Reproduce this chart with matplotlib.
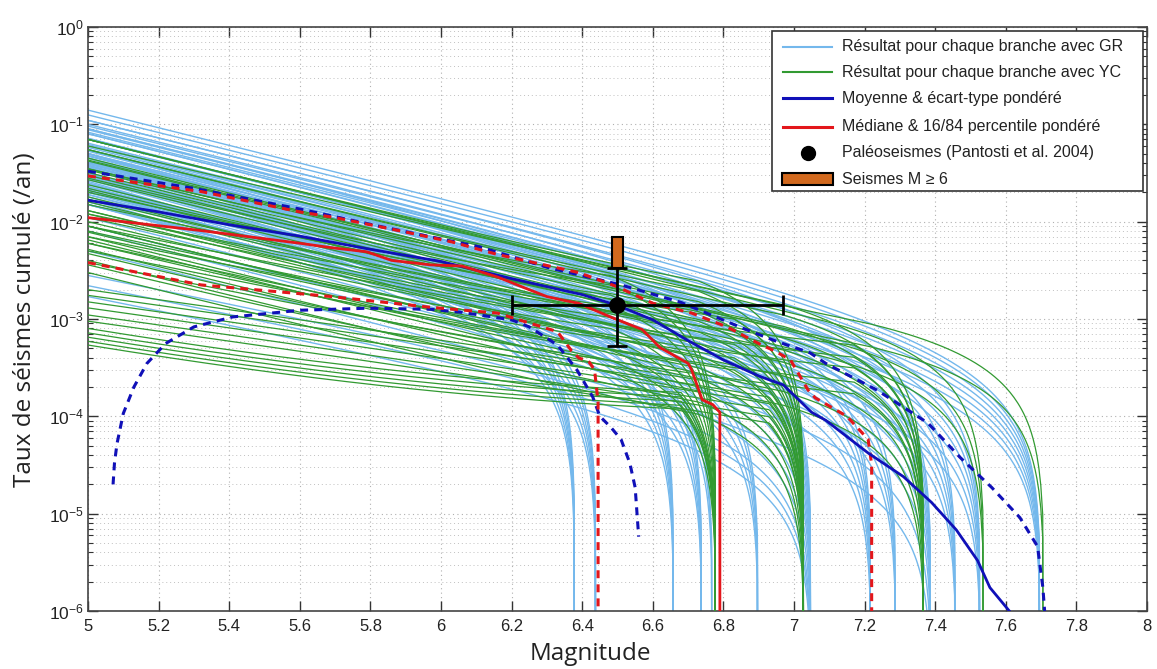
import numpy as np
import matplotlib
matplotlib.use('Agg')
import matplotlib.pyplot as plt
from matplotlib.patches import Rectangle
from matplotlib.lines import Line2D
from matplotlib.ticker import FixedLocator, LogFormatterSciNotation, NullFormatter, FormatStrFormatter

# ---------------- data ----------------
# Gutenberg-Richter branches (grouped by Mmax): b-value and rate at M5 for each branch
gr_mmax = [6.38, 6.44, 6.66, 6.74, 6.77, 6.90, 7.05, 7.05, 7.22, 7.29, 7.39, 7.46, 7.53, 7.70]
gr_b    = [1.0, 1.0, 0.95, 0.95, 0.95, 0.95, 0.9, 0.7, 0.9, 0.9, 0.9, 0.9, 0.9, 0.9]
gr_n5 = [
    [0.050, 0.042, 0.035, 0.030, 0.025, 0.021],
    [0.045, 0.038, 0.031, 0.026, 0.021, 0.017],
    [0.055, 0.045, 0.036, 0.029, 0.023, 0.018],
    [0.050, 0.040, 0.032, 0.025, 0.019, 0.015],
    [0.035, 0.027, 0.020],
    [0.045, 0.036, 0.028, 0.021, 0.016],
    [0.090, 0.072, 0.058, 0.047, 0.038, 0.030, 0.024, 0.019, 0.015, 0.011, 0.008],
    [0.0028, 0.0022, 0.0017],
    [0.080, 0.062, 0.048, 0.037, 0.028, 0.021, 0.015],
    [0.070, 0.053, 0.040, 0.030, 0.022],
    [0.100, 0.080, 0.064, 0.050, 0.039, 0.030, 0.022, 0.015, 0.009, 0.005],
    [0.090, 0.070, 0.054, 0.041, 0.031, 0.023],
    [0.110, 0.088, 0.070, 0.055, 0.042, 0.031, 0.022],
    [0.140, 0.125, 0.110, 0.096, 0.083, 0.071, 0.060, 0.050],
]

# Youngs-Coppersmith branches (grouped): Mmax, char. width, b, char. fraction, rates at M5
yc_mmax  = [6.78, 7.03, 6.78, 7.03, 7.37, 7.54, 7.71, 7.37, 7.03]
yc_width = [0.10, 0.10, 0.30, 0.30, 0.40, 0.50, 0.50, 0.20, 0.20]
yc_b     = [0.70, 0.50, 0.90, 0.90, 0.90, 0.90, 0.85, 0.75, 0.80]
yc_frac  = [0.22, 0.09, 0.08, 0.035, 0.02, 0.015, 0.015, 0.045, 0.05]
yc_n5 = [
    [8.0e-4, 7.2e-4, 6.5e-4, 5.9e-4, 5.4e-4],
    [2.0e-3, 1.75e-3, 1.5e-3, 1.3e-3, 1.1e-3, 9.5e-4],
    [0.035, 0.028, 0.022, 0.017, 0.013, 0.010, 0.0078, 0.006, 0.0047, 0.0036],
    [0.070, 0.055, 0.043, 0.034, 0.027, 0.021, 0.016, 0.012, 0.009, 0.007, 0.0052, 0.004, 0.003],
    [0.070, 0.055, 0.042, 0.032, 0.024, 0.018, 0.013, 0.009, 0.0065],
    [0.070, 0.045, 0.030],
    [0.060, 0.035],
    [0.012, 0.009, 0.007, 0.005, 0.0038],
    [0.020, 0.015, 0.011, 0.008, 0.006],
]

# weighted mean (blue solid)
mean_m = [5.0, 5.2, 5.4, 5.6, 5.8, 6.0, 6.2, 6.4, 6.5, 6.6, 6.7, 6.8, 6.9, 6.97, 7.05, 7.09,
          7.21, 7.31, 7.39, 7.46, 7.52, 7.555, 7.61]
mean_rate = [1.66e-2, 1.26e-2, 9.3e-3, 7.1e-3, 5.2e-3, 3.9e-3, 2.6e-3, 1.78e-3, 1.38e-3,
             9.8e-4, 6.0e-4, 3.8e-4, 2.6e-4, 2.1e-4, 1.1e-4, 9.1e-5,
             4.2e-5, 2.4e-5, 1.3e-5, 6.8e-6, 3.3e-6, 1.74e-6, 1.0e-6]
# mean + std (blue dashed, upper)
mstd_hi_m = [5.0, 5.3, 5.6, 5.83, 6.11, 6.30, 6.51, 6.68, 6.86, 6.95, 7.045, 7.09, 7.235, 7.38,
             7.47, 7.56, 7.64, 7.69, 7.705, 7.71]
mstd_hi_rate = [3.3e-2, 2.2e-2, 1.35e-2, 8.9e-3, 5.5e-3, 3.4e-3, 2.24e-3, 1.48e-3, 7.9e-4, 5.9e-4,
                4.5e-4, 3.5e-4, 1.86e-4, 8.5e-5, 3.8e-5, 1.86e-5, 9.1e-6, 4.6e-6, 1.74e-6, 1.0e-6]
# mean - std (blue dashed, lower)
mstd_lo_m = [5.071, 5.075, 5.082, 5.10, 5.13, 5.167, 5.22, 5.30, 5.41, 5.60, 5.79, 5.97, 6.06,
             6.20, 6.25, 6.33, 6.385, 6.43, 6.45, 6.48, 6.51, 6.535, 6.55, 6.56]
mstd_lo_rate = [2.0e-5, 3.3e-5, 5.2e-5, 1.07e-4, 2.0e-4, 3.5e-4, 5.6e-4, 8.3e-4, 1.05e-3, 1.23e-3,
                1.29e-3, 1.26e-3, 1.17e-3, 9.8e-4, 8.3e-4, 5.4e-4, 3.0e-4, 1.58e-4, 1.0e-4,
                7.8e-5, 5.8e-5, 3.3e-5, 1.86e-5, 5.8e-6]
# weighted median (red solid)
med_m = [5.0, 5.32, 5.6, 5.69, 5.79, 5.86, 5.97, 6.06, 6.16, 6.25, 6.30, 6.35, 6.39, 6.48, 6.57,
         6.62, 6.70, 6.71, 6.74, 6.77, 6.79, 6.79]
med_rate = [1.1e-2, 8.1e-3, 6.0e-3, 5.4e-3, 4.9e-3, 4.0e-3, 3.6e-3, 3.5e-3, 2.7e-3, 2.0e-3,
            1.7e-3, 1.55e-3, 1.45e-3, 1.05e-3, 7.8e-4, 5.1e-4, 3.5e-4, 3.0e-4, 1.48e-4,
            1.32e-4, 1.1e-4, 1e-7]
# 84th percentile (red dashed, upper)
p84_m = [5.0, 5.32, 5.6, 5.7, 5.88, 6.03, 6.16, 6.39, 6.5, 6.6, 6.71, 6.81, 6.9, 6.95, 6.99, 7.04,
         7.06, 7.15, 7.21, 7.22, 7.22]
p84_rate = [2.95e-2, 2.04e-2, 1.26e-2, 1.1e-2, 8.1e-3, 6.2e-3, 4.6e-3, 3.0e-3, 2.14e-3, 1.45e-3,
            1.15e-3, 8.3e-4, 5.6e-4, 4.6e-4, 3.8e-4, 1.86e-4, 1.55e-4, 1.0e-4, 5.8e-5, 3.2e-5, 1e-7]
# 16th percentile (red dashed, lower)
p16_m = [5.0, 5.32, 5.6, 5.69, 5.97, 6.16, 6.25, 6.33, 6.37, 6.39, 6.42, 6.435, 6.445, 6.445]
p16_rate = [3.8e-3, 2.24e-3, 1.82e-3, 1.7e-3, 1.32e-3, 1.15e-3, 9.1e-4, 7.4e-4, 4.7e-4, 4.0e-4,
            3.6e-4, 3.0e-4, 1.4e-4, 1e-7]

# palaeoseismic estimate (Pantosti et al. 2004)
paleo_m, paleo_m_lo, paleo_m_hi = 6.5, 6.20, 6.97
paleo_rate, paleo_rate_lo, paleo_rate_hi = 1.39e-3, 5.3e-4, 3.33e-3
# historical M>=6 rate range
hist_m = 6.5
hist_rate_lo, hist_rate_hi = 3.33e-3, 6.9e-3

x_ticks = [5, 5.2, 5.4, 5.6, 5.8, 6, 6.2, 6.4, 6.6, 6.8, 7, 7.2, 7.4, 7.6, 7.8, 8]
y_ticks = [1e-6, 1e-5, 1e-4, 1e-3, 1e-2, 1e-1, 1e0]
y_minor_ticks = [k * 10.0 ** e for e in range(-6, 0) for k in range(2, 10)]

legend_labels = ["Résultat pour chaque branche avec GR",
                 "Résultat pour chaque branche avec YC",
                 "Moyenne & écart-type pondéré",
                 "Médiane & 16/84 percentile pondéré",
                 "Paléoseismes (Pantosti et al. 2004)",
                 "Seismes M ≥ 6"]

# ---------------- styles ----------------
C_GR = '#74b8ec'
C_YC = '#329a32'
C_MEAN = '#1010b8'
C_MED = '#e3161b'
C_ORANGE = '#d2691e'
FLOOR = 1e-12

plt.rcParams['mathtext.fontset'] = 'custom'
plt.rcParams['mathtext.rm'] = 'Liberation Sans'
plt.rcParams['mathtext.it'] = 'Liberation Sans:italic'
plt.rcParams['mathtext.bf'] = 'Liberation Sans:bold'

W, H = 1157, 669
fig = plt.figure(figsize=(W / 100, H / 100), dpi=100)
ax = fig.add_axes([88 / W, 1 - 611 / H, (1147 - 88) / W, (611 - 27) / H])
ax.set_yscale('log')


def gr_curve(m, n5, b, mmax):
    t = 10 ** (-b * (mmax - 5))
    return n5 * (10 ** (-b * (m - 5)) - t) / (1 - t)


def yc_curve(m, n5, b, mmax, w, frac):
    nc = frac * n5
    a = n5 - nc
    mu = mmax - w
    t = 10 ** (-b * (mu - 5))
    gr = np.where(m < mu, a * (10 ** (-b * (m - 5)) - t) / (1 - t), 0.0)
    ch = nc * np.clip((mmax - m) / w, 0, 1)
    return gr + ch


for mm, bb, lst in zip(gr_mmax, gr_b, gr_n5):
    m = np.linspace(5, mm, 500)
    for n5 in lst:
        y = np.maximum(gr_curve(m, n5, bb, mm), FLOOR)
        ax.plot(m, y, color=C_GR, lw=1.0, zorder=2)

for mm, ww, bb, fr, lst in zip(yc_mmax, yc_width, yc_b, yc_frac, yc_n5):
    m = np.linspace(5, mm, 500)
    for n5 in lst:
        y = np.maximum(yc_curve(m, n5, bb, mm, ww, fr), FLOOR)
        ax.plot(m, y, color=C_YC, lw=0.9, zorder=3)

dash = (2.6, 2.0)
ax.plot(mstd_hi_m, mstd_hi_rate, color=C_MEAN, lw=2.2, dashes=dash, zorder=5)
ax.plot(mstd_lo_m, mstd_lo_rate, color=C_MEAN, lw=2.2, dashes=dash, zorder=5)
ax.plot(p84_m, p84_rate, color=C_MED, lw=2.2, dashes=dash, zorder=5)
ax.plot(p16_m, p16_rate, color=C_MED, lw=2.2, dashes=dash, zorder=5)
ax.plot(mean_m, mean_rate, color=C_MEAN, lw=2.0, zorder=6)
ax.plot(med_m, med_rate, color=C_MED, lw=2.0, zorder=6)

ax.errorbar(paleo_m, paleo_rate,
            xerr=[[paleo_m - paleo_m_lo], [paleo_m_hi - paleo_m]],
            yerr=[[paleo_rate - paleo_rate_lo], [paleo_rate_hi - paleo_rate]],
            fmt='o', color='k', ms=11, lw=2, capsize=7.5, capthick=2, zorder=8)
ax.bar(hist_m, hist_rate_hi - hist_rate_lo, bottom=hist_rate_lo, width=0.032,
       color=C_ORANGE, edgecolor='k', lw=1.5, zorder=9)

ax.set_xlim(5, 8)
ax.set_ylim(1e-6, 1)
ax.xaxis.set_major_locator(FixedLocator(x_ticks))
ax.xaxis.set_major_formatter(FormatStrFormatter('%g'))
ax.yaxis.set_major_locator(FixedLocator(y_ticks))
ax.yaxis.set_major_formatter(LogFormatterSciNotation(base=10))
ax.yaxis.set_minor_locator(FixedLocator(y_minor_ticks))
ax.yaxis.set_minor_formatter(NullFormatter())
ax.tick_params(which='both', direction='in', top=True, right=True, colors='#333333',
               labelcolor='#222222')
ax.tick_params(which='major', length=7, width=1)
ax.tick_params(axis='x', which='major', labelsize=12, pad=6)
ax.tick_params(axis='y', which='major', labelsize=12.5, pad=3)
ax.tick_params(which='minor', length=3.5, width=0.8)
for lab in ax.get_xticklabels() + ax.get_yticklabels():
    lab.set_fontfamily('Liberation Sans')
ax.grid(True, which='major', ls=(0, (1, 3)), color='#b0b0b0', lw=0.8)
ax.grid(True, which='minor', axis='y', ls=(0, (1, 3)), color='#c0c0c0', lw=0.7)
ax.set_axisbelow(True)
for s in ax.spines.values():
    s.set_color('#444444')
    s.set_linewidth(1.2)

fig.text(25 / W, 1 - 320 / H, 'Taux de séismes cumulé (/an)', rotation=90,
         ha='center', va='center', fontsize=17.5, family='Open Sans', color='#222222')
fig.text(590 / W, 1 - 654 / H, 'Magnitude', ha='center', va='center', fontsize=17.5,
         family='Open Sans', color='#222222')

# ---------------- legend (drawn in figure pixels) ----------------
def fx(x):
    return x / W


def fy(y):
    return 1 - y / H


fig.patches.append(Rectangle((fx(772), fy(191)), fx(1143) - fx(772), fy(31) - fy(191),
                             transform=fig.transFigure, facecolor='white', edgecolor='#333333',
                             lw=1.2, zorder=20))
rows = [47, 72, 98, 127, 153, 179]
x0, x1, xt = 783, 832, 842
handles = [dict(color=C_GR, lw=1.5), dict(color=C_YC, lw=1.5), dict(color=C_MEAN, lw=2.2),
           dict(color=C_MED, lw=2.2)]
for i, y in enumerate(rows):
    if i < 4:
        fig.lines.append(Line2D([fx(x0), fx(x1)], [fy(y), fy(y)], transform=fig.transFigure,
                                zorder=21, **handles[i]))
    elif i == 4:
        fig.lines.append(Line2D([fx((x0 + x1) / 2)], [fy(y)], transform=fig.transFigure,
                                marker='o', ms=10, color='k', ls='none', zorder=21))
    else:
        fig.patches.append(Rectangle((fx(782), fy(y + 6)), fx(833) - fx(782), fy(y - 6) - fy(y + 6),
                                     transform=fig.transFigure, facecolor=C_ORANGE,
                                     edgecolor='k', lw=1.5, zorder=21))
    fig.text(fx(xt), fy(y), legend_labels[i], ha='left', va='center', fontsize=11.5,
             family='Liberation Sans', color='#222222', zorder=22)

fig.savefig('out.png', dpi=100)
